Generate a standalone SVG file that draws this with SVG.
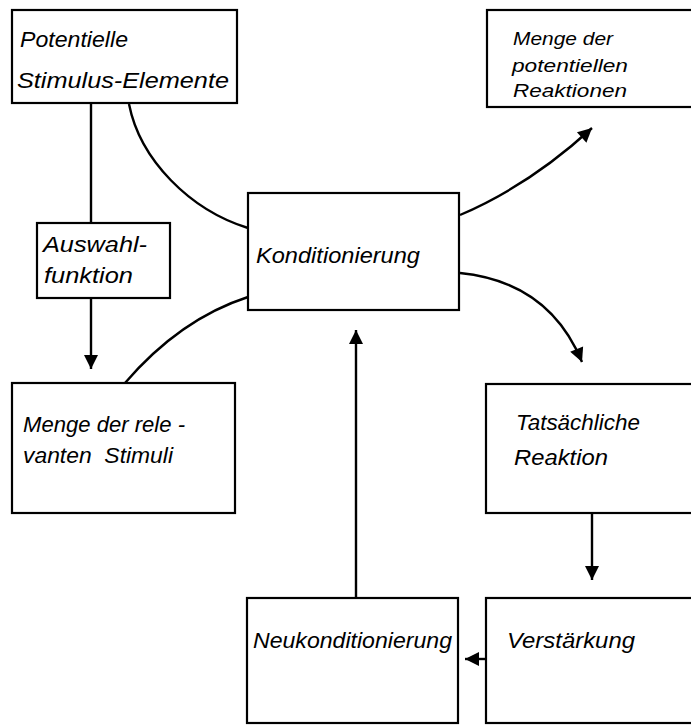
<svg xmlns="http://www.w3.org/2000/svg" width="691" height="725" viewBox="0 0 691 725">
<style>
.box{fill:#fff;stroke:#000;stroke-width:2.2}
.t{font-family:"Liberation Sans",Arial,sans-serif;font-style:italic;font-size:22px;fill:#000}
.s{font-size:19px}
.c{fill:none;stroke:#000;stroke-width:2.4}
</style>
<defs>
<marker id="ah" markerUnits="userSpaceOnUse" markerWidth="18" markerHeight="18" viewBox="0 0 18 18" refX="15" refY="9" orient="auto">
<path d="M1,2 L15,9 L1,16 Z" fill="#000"/>
</marker>
</defs>
<rect width="691" height="725" fill="#fff"/>
<g id="n1">
<rect class="box" x="12" y="10" width="225" height="93"/>
<text class="t" x="20" y="47" textLength="108" lengthAdjust="spacingAndGlyphs">Potentielle</text>
<text class="t" x="17" y="88" textLength="212" lengthAdjust="spacingAndGlyphs">Stimulus-Elemente</text>
</g>
<g id="n2">
<rect class="box" x="37" y="223" width="133" height="75"/>
<text class="t" x="43" y="252" textLength="104" lengthAdjust="spacingAndGlyphs">Auswahl-</text>
<text class="t" x="44" y="283" textLength="89" lengthAdjust="spacingAndGlyphs">funktion</text>
</g>
<g id="n3">
<rect class="box" x="12" y="383" width="223" height="130"/>
<text class="t" x="23" y="432" textLength="162" lengthAdjust="spacingAndGlyphs">Menge der rele -</text>
<text class="t" x="23" y="463" textLength="150" lengthAdjust="spacingAndGlyphs">vanten&#160; Stimuli</text>
</g>
<g id="n4">
<rect class="box" x="248" y="193" width="211" height="117"/>
<text class="t" x="256" y="263" textLength="164" lengthAdjust="spacingAndGlyphs">Konditionierung</text>
</g>
<g id="n5">
<rect class="box" x="487" y="10" width="215" height="97"/>
<text class="t s" x="513" y="45" textLength="100" lengthAdjust="spacingAndGlyphs">Menge der</text>
<text class="t s" x="512" y="72" textLength="116" lengthAdjust="spacingAndGlyphs">potentiellen</text>
<text class="t s" x="513" y="97" textLength="114" lengthAdjust="spacingAndGlyphs">Reaktionen</text>
</g>
<g id="n6">
<rect class="box" x="486" y="384" width="216" height="129"/>
<text class="t" x="516" y="430" textLength="124" lengthAdjust="spacingAndGlyphs">Tatsächliche</text>
<text class="t" x="514" y="465" textLength="94" lengthAdjust="spacingAndGlyphs">Reaktion</text>
</g>
<g id="n7">
<rect class="box" x="486" y="598" width="216" height="125"/>
<text class="t" x="507" y="648" textLength="128" lengthAdjust="spacingAndGlyphs">Verstärkung</text>
</g>
<g id="n8">
<rect class="box" x="247" y="598" width="211" height="125"/>
<text class="t" x="253" y="648" textLength="199" lengthAdjust="spacingAndGlyphs">Neukonditionierung</text>
</g>
<g id="connectors">
<path class="c" d="M91,103 L91,223"/>
<path class="c" d="M91,298 L91,369" marker-end="url(#ah)"/>
<path class="c" d="M129,104 C140,160 190,210 248,228"/>
<path class="c" d="M125,383 Q180,319 248,297"/>
<path class="c" d="M460,215 Q530,185 592,128" marker-end="url(#ah)"/>
<path class="c" d="M460,273 Q549,282 582,362" marker-end="url(#ah)"/>
<path class="c" d="M592,513 L592,580" marker-end="url(#ah)"/>
<path class="c" d="M486,659 L465,659" marker-end="url(#ah)"/>
<path class="c" d="M356,598 L356,330" marker-end="url(#ah)"/>
</g>
</svg>
